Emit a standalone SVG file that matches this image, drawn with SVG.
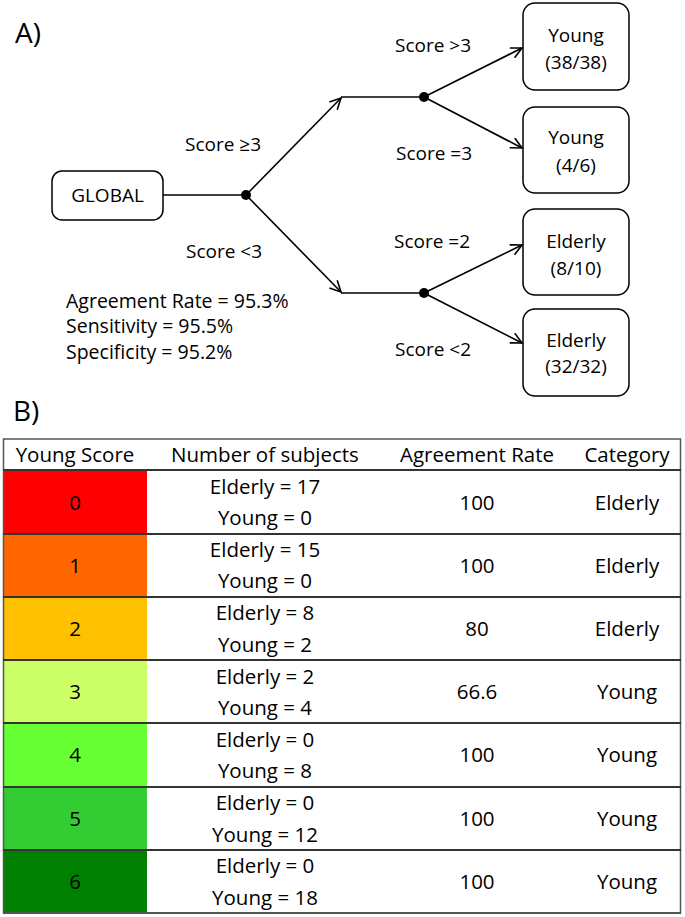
<svg xmlns="http://www.w3.org/2000/svg" width="685" height="917" viewBox="0 0 685 917">
<style>
text{font-family:"Open Sans","Noto Sans","Liberation Sans",sans-serif;fill:#000;}
.lbl{font-size:19px;}
.stat{font-size:19.5px;}
.node rect{fill:#fff;stroke:#000;stroke-width:1.5;}
.nt{font-size:19px;text-anchor:middle;}
.conn{stroke:#000;stroke-width:1.6;fill:none;}
.tt{font-size:20.5px;text-anchor:middle;}
.rowline{stroke:#333;stroke-width:2;}
</style>
<defs>
<marker id="arr" markerUnits="userSpaceOnUse" markerWidth="14" markerHeight="14" refX="12" refY="6" orient="auto">
<path d="M1,0.5 L12,6 L1,11.5" fill="none" stroke="#000" stroke-width="1.6"/>
</marker>
</defs>
<rect width="685" height="917" fill="#fff"/>
<text x="15" y="43" style="font-size:28px">A)</text>
<text x="13" y="421" style="font-size:28px">B)</text>

<g id="global" class="node"><rect x="52" y="171" width="111" height="49" rx="10"/><text class="nt" x="107.5" y="202">GLOBAL</text></g>
<g id="young1" class="node"><rect x="523" y="3" width="106" height="87" rx="12"/><text class="nt" x="576" y="42">Young</text><text class="nt" x="576" y="69">(38/38)</text></g>
<g id="young2" class="node"><rect x="523" y="107" width="106" height="86" rx="12"/><text class="nt" x="576" y="144">Young</text><text class="nt" x="576" y="172">(4/6)</text></g>
<g id="elderly1" class="node"><rect x="523" y="209" width="106" height="86" rx="12"/><text class="nt" x="576" y="248">Elderly</text><text class="nt" x="576" y="275">(8/10)</text></g>
<g id="elderly2" class="node"><rect x="523" y="309" width="106" height="87" rx="12"/><text class="nt" x="576" y="347">Elderly</text><text class="nt" x="576" y="373">(32/32)</text></g>

<g id="connectors">
<line class="conn" x1="163" y1="195" x2="246" y2="195"/>
<line class="conn" x1="246" y1="195" x2="341" y2="98" marker-end="url(#arr)"/>
<line class="conn" x1="246" y1="195" x2="341" y2="292" marker-end="url(#arr)"/>
<line class="conn" x1="341" y1="97" x2="424" y2="97"/>
<line class="conn" x1="341" y1="293" x2="424" y2="293"/>
<line class="conn" x1="424" y1="97" x2="522" y2="48" marker-end="url(#arr)"/>
<line class="conn" x1="424" y1="97" x2="522" y2="148" marker-end="url(#arr)"/>
<line class="conn" x1="424" y1="293" x2="522" y2="245" marker-end="url(#arr)"/>
<line class="conn" x1="424" y1="293" x2="522" y2="343" marker-end="url(#arr)"/>
<circle cx="246" cy="195" r="5"/>
<circle cx="424" cy="97" r="5"/>
<circle cx="424" cy="293" r="5"/>
<text class="lbl" x="185" y="151">Score ≥3</text>
<text class="lbl" x="186" y="258">Score &lt;3</text>
<text class="lbl" x="395" y="52">Score &gt;3</text>
<text class="lbl" x="396" y="160">Score =3</text>
<text class="lbl" x="394" y="248">Score =2</text>
<text class="lbl" x="395" y="356">Score &lt;2</text>
</g>

<g id="stats">
<text class="stat" x="66" y="308">Agreement Rate = 95.3%</text>
<text class="stat" x="66" y="333">Sensitivity = 95.5%</text>
<text class="stat" x="66" y="359">Specificity = 95.2%</text>
</g>

<g id="table">
<rect x="4" y="470" width="143" height="64" fill="#FF0000"/>
<rect x="4" y="534" width="143" height="63" fill="#FF6600"/>
<rect x="4" y="597" width="143" height="63" fill="#FFC000"/>
<rect x="4" y="660" width="143" height="63" fill="#CCFF66"/>
<rect x="4" y="723" width="143" height="64" fill="#66FF33"/>
<rect x="4" y="787" width="143" height="63" fill="#33CC33"/>
<rect x="4" y="850" width="143" height="63" fill="#008000"/>
<rect x="3.5" y="439" width="677" height="474" fill="none" stroke="#555" stroke-width="1.5"/>
<line class="rowline" x1="3" y1="470" x2="681" y2="470"/>
<line class="rowline" x1="3" y1="534" x2="681" y2="534"/>
<line class="rowline" x1="3" y1="597" x2="681" y2="597"/>
<line class="rowline" x1="3" y1="660" x2="681" y2="660"/>
<line class="rowline" x1="3" y1="723" x2="681" y2="723"/>
<line class="rowline" x1="3" y1="787" x2="681" y2="787"/>
<line class="rowline" x1="3" y1="850" x2="681" y2="850"/>
<line x1="3" y1="913" x2="681" y2="913" stroke="#555" stroke-width="2"/>
<text class="tt" x="75" y="462">Young Score</text>
<text class="tt" x="265" y="462">Number of subjects</text>
<text class="tt" x="477" y="462">Agreement Rate</text>
<text class="tt" x="627" y="462">Category</text>

<text class="tt" x="75" y="510">0</text><text class="tt" x="265" y="494">Elderly = 17</text><text class="tt" x="265" y="525">Young = 0</text><text class="tt" x="477" y="510">100</text><text class="tt" x="627" y="510">Elderly</text>
<text class="tt" x="75" y="573">1</text><text class="tt" x="265" y="557">Elderly = 15</text><text class="tt" x="265" y="588">Young = 0</text><text class="tt" x="477" y="573">100</text><text class="tt" x="627" y="573">Elderly</text>
<text class="tt" x="75" y="636">2</text><text class="tt" x="265" y="620">Elderly = 8</text><text class="tt" x="265" y="652">Young = 2</text><text class="tt" x="477" y="636">80</text><text class="tt" x="627" y="636">Elderly</text>
<text class="tt" x="75" y="699">3</text><text class="tt" x="265" y="684">Elderly = 2</text><text class="tt" x="265" y="715">Young = 4</text><text class="tt" x="477" y="699">66.6</text><text class="tt" x="627" y="699">Young</text>
<text class="tt" x="75" y="762">4</text><text class="tt" x="265" y="747">Elderly = 0</text><text class="tt" x="265" y="778">Young = 8</text><text class="tt" x="477" y="762">100</text><text class="tt" x="627" y="762">Young</text>
<text class="tt" x="75" y="826">5</text><text class="tt" x="265" y="810">Elderly = 0</text><text class="tt" x="265" y="842">Young = 12</text><text class="tt" x="477" y="826">100</text><text class="tt" x="627" y="826">Young</text>
<text class="tt" x="75" y="889">6</text><text class="tt" x="265" y="873">Elderly = 0</text><text class="tt" x="265" y="905">Young = 18</text><text class="tt" x="477" y="889">100</text><text class="tt" x="627" y="889">Young</text>
</g>
</svg>
